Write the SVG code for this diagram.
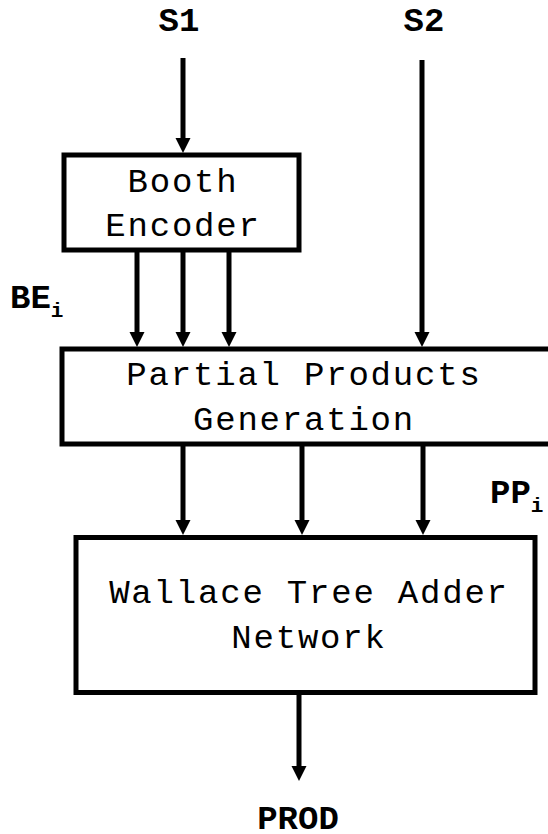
<svg xmlns="http://www.w3.org/2000/svg" width="548" height="834" viewBox="0 0 548 834">
<style>
.box{fill:#fff;stroke:#000;stroke-width:5}
.lbl{font-family:"Liberation Mono","Courier New",monospace;font-size:34px;letter-spacing:1.8px;fill:#000;text-anchor:middle}
.sig{font-family:"Liberation Mono","Courier New",monospace;font-size:34px;font-weight:bold;fill:#000}
.sub{font-size:21px}
.wire{stroke:#000;stroke-width:5;fill:none;marker-end:url(#ah)}
</style>
<defs>
<marker id="ah" markerUnits="userSpaceOnUse" markerWidth="16" markerHeight="16" refX="3" refY="7.5" orient="auto">
<path d="M0,0 L15,7.5 L0,15 z" fill="#000"/>
</marker>
</defs>
<rect width="548" height="834" fill="#fff"/>
<g id="connectors">
<line class="wire" x1="183" y1="58" x2="183" y2="141"/>
<line class="wire" x1="422" y1="60" x2="422" y2="335"/>
<line class="wire" x1="137" y1="252" x2="137" y2="335"/>
<line class="wire" x1="183" y1="252" x2="183" y2="335"/>
<line class="wire" x1="229" y1="252" x2="229" y2="335"/>
<line class="wire" x1="183" y1="446" x2="183" y2="523"/>
<line class="wire" x1="302" y1="446" x2="302" y2="523"/>
<line class="wire" x1="423" y1="446" x2="423" y2="523"/>
<line class="wire" x1="299" y1="694" x2="299" y2="769"/>
</g>
<g id="booth">
<rect class="box" x="64" y="155" width="235" height="95"/>
<text class="lbl" x="183" y="192">Booth</text>
<text class="lbl" x="183" y="236">Encoder</text>
</g>
<g id="ppgen">
<rect class="box" x="62" y="349" width="500" height="95"/>
<text class="lbl" x="304" y="385">Partial Products</text>
<text class="lbl" x="304" y="430">Generation</text>
</g>
<g id="wallace">
<rect class="box" x="76" y="537.5" width="459" height="155"/>
<text class="lbl" x="309" y="603">Wallace Tree Adder</text>
<text class="lbl" x="309" y="648">Network</text>
</g>
<g id="labels">
<text class="sig" x="179" y="31" text-anchor="middle">S1</text>
<text class="sig" x="424" y="31" text-anchor="middle">S2</text>
<text class="sig" x="10" y="308">BE<tspan class="sub" dy="9">i</tspan></text>
<text class="sig" x="490" y="503">PP<tspan class="sub" dy="9">i</tspan></text>
<text class="sig" x="298" y="829" text-anchor="middle">PROD</text>
</g>
</svg>
